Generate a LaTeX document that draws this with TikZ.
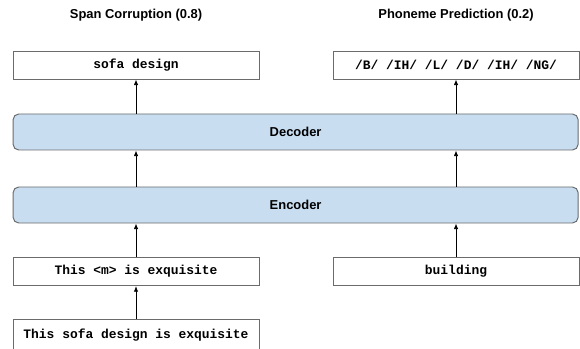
\documentclass[tikz,border=0pt]{standalone}
\usepackage{fontspec}
\setmainfont{Liberation Sans}
\setmonofont{Liberation Mono}
\usetikzlibrary{arrows.meta}
\definecolor{boxline}{HTML}{6B6B6B}
\definecolor{coderfill}{HTML}{C9DDF1}
\tikzset{
  txtbox/.style={draw=boxline, line width=0.7pt, minimum width=6.15cm, minimum height=0.7cm, inner sep=0pt, font=\fontsize{9.2}{11}\selectfont\ttfamily\bfseries},
  coder/.style={draw=boxline, fill=coderfill, line width=0.7pt, rounded corners=4pt, minimum width=14.125cm, minimum height=0.9cm, inner sep=0pt, font=\fontsize{9.2}{11}\selectfont\bfseries},
  ttl/.style={font=\fontsize{9.2}{11}\selectfont\bfseries},
  arr/.style={-{Latex[length=4pt,width=3.2pt]}, line width=0.6pt}
}
\begin{document}
\begin{tikzpicture}
\useasboundingbox (0,0) rectangle (14.5,-8.725);
\clip (0,0) rectangle (14.5,-8.725);
% task titles
\node[ttl] (ttl_span) at (3.4,-0.375) {Span Corruption (0.8)};
\node[ttl] (ttl_phon) at (11.4,-0.375) {Phoneme Prediction (0.2)};
% targets
\node[txtbox] (tgt_span) at (3.4,-1.625) {sofa design};
\node[txtbox] (tgt_phon) at (11.4,-1.625) {/B/ /IH/ /L/ /D/ /IH/ /NG/};
% model
\node[coder] (dec) at (7.39,-3.3) {Decoder};
\node[coder] (enc) at (7.39,-5.125) {Encoder};
% inputs
\node[txtbox] (in_span) at (3.4,-6.79) {This <m> is exquisite};
\node[txtbox] (in_phon) at (11.4,-6.79) {building};
\node[txtbox, minimum height=0.8cm] (raw) at (3.4,-8.375) {This sofa design is exquisite};
% arrows
\draw[arr] (raw.north) -- (in_span.south);
\draw[arr] (in_span.north) -- (in_span.north |- enc.south);
\draw[arr] (in_phon.north) -- (in_phon.north |- enc.south);
\draw[arr] (in_span.north |- enc.north) -- (in_span.north |- dec.south);
\draw[arr] (in_phon.north |- enc.north) -- (in_phon.north |- dec.south);
\draw[arr] (tgt_span.south |- dec.north) -- (tgt_span.south);
\draw[arr] (tgt_phon.south |- dec.north) -- (tgt_phon.south);
\end{tikzpicture}
\end{document}
